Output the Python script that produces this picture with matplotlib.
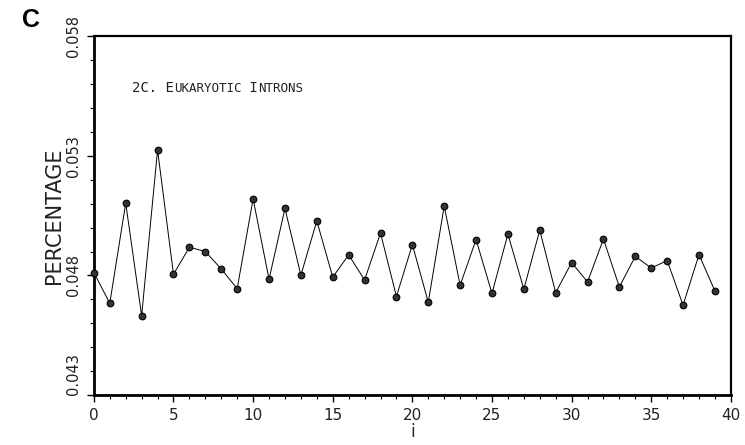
import matplotlib
matplotlib.use("Agg")
import matplotlib.pyplot as plt
from matplotlib.ticker import MultipleLocator, FixedLocator
from matplotlib import transforms

positions = list(range(40))
percentage = [0.04812, 0.04684, 0.05102, 0.04632, 0.05324, 0.04805, 0.04918, 0.04900,
              0.04827, 0.04745, 0.05120, 0.04784, 0.05080, 0.04801, 0.05028, 0.04793,
              0.04886, 0.04781, 0.04977, 0.04712, 0.04929, 0.04688, 0.05090, 0.04759,
              0.04950, 0.04725, 0.04973, 0.04743, 0.04989, 0.04728, 0.04854, 0.04773,
              0.04952, 0.04752, 0.04880, 0.04831, 0.04862, 0.04676, 0.04887, 0.04735]
y_ticks = [0.043, 0.048, 0.053, 0.058]
y_tick_labels = ["0.043", "0.048", "0.053", "0.058"]
x_ticks = [0, 5, 10, 15, 20, 25, 30, 35, 40]

fig = plt.figure(figsize=(7.45, 4.45), dpi=100)
ax = fig.add_axes([0.126, 0.112, 0.855, 0.807])

ax.plot(positions, percentage, color="black", lw=0.7, zorder=2, clip_on=False)
ax.plot(positions, percentage, ls="none", marker="o", ms=4.8,
        mfc="#333333", mec="black", mew=0.8, zorder=3, clip_on=False)

ax.set_xlim(0, 40)
ax.set_ylim(0.043, 0.058)
ax.xaxis.set_major_locator(FixedLocator(x_ticks))
ax.xaxis.set_minor_locator(MultipleLocator(1))
ax.yaxis.set_major_locator(FixedLocator(y_ticks))
ax.yaxis.set_minor_locator(MultipleLocator(0.001))
ax.set_xticklabels([str(t) for t in x_ticks], fontsize=11, color="#222222")
ax.set_yticklabels(y_tick_labels, rotation=90, va="center", fontsize=10.5, color="#222222")
lbls = ax.get_yticklabels()
lbls[0].set_va("bottom")
lbls[-1].set_va("center")

ax.tick_params(axis="both", which="major", direction="out", length=5, width=1, pad=4)
ax.tick_params(axis="both", which="minor", direction="out", length=3, width=0.8)

for side in ["left", "bottom"]:
    ax.spines[side].set_linewidth(2.0)
for side in ["top", "right"]:
    ax.spines[side].set_linewidth(1.6)

ax.set_ylabel("PERCENTAGE", fontsize=15, color="#222222", labelpad=2)
ax.set_xlabel("i", fontsize=12, color="#222222", labelpad=0)

fig.text(0.029, 0.955, "C", fontsize=18, fontweight="bold", family="Liberation Sans",
         ha="left", va="center")

# small caps title inside the plot
parts = [("2C. E", 10), ("UKARYOTIC", 9), (" I", 10), ("NTRONS", 9)]
fig.canvas.draw()
renderer = fig.canvas.get_renderer()
x0, y0 = 0.06, 0.845
trans = ax.transAxes
for s, fs in parts:
    txt = ax.text(x0, y0, s, transform=trans, fontsize=fs, color="#222222",
                  family="DejaVu Sans Mono", ha="left", va="baseline")
    txt.draw(renderer)
    ex = txt.get_window_extent(renderer)
    trans = transforms.offset_copy(txt.get_transform(), fig=fig, x=ex.width, y=0, units="dots")

fig.savefig("out.png", dpi=100)
